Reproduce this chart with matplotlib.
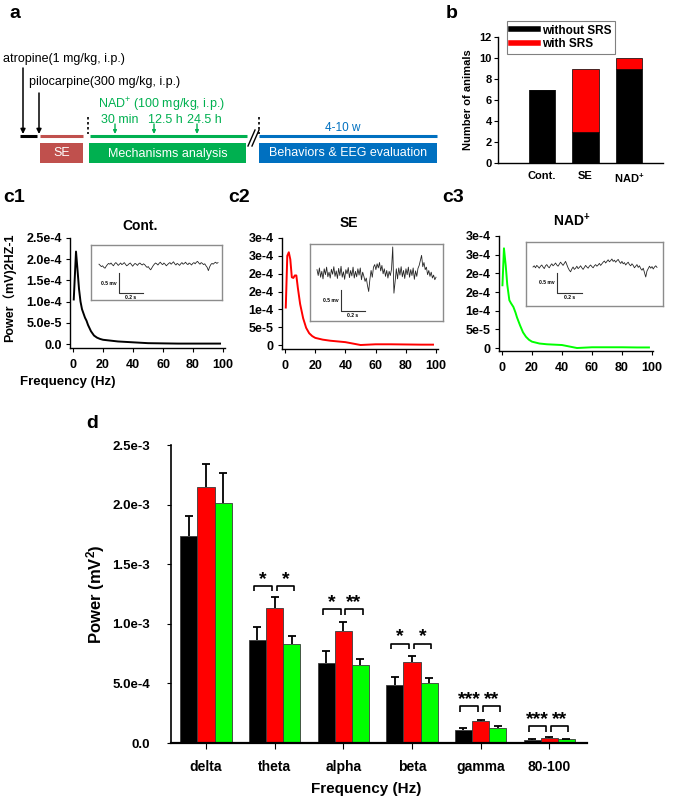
import numpy as np
import matplotlib
matplotlib.use('Agg')
import matplotlib.pyplot as plt
from matplotlib.patches import Rectangle
from matplotlib.lines import Line2D

plt.rcParams['font.family'] = ['Liberation Sans', 'Noto Sans CJK SC', 'DejaVu Sans']
plt.rcParams['mathtext.fontset'] = 'custom'
plt.rcParams['mathtext.rm'] = 'Liberation Sans'
plt.rcParams['mathtext.bf'] = 'Liberation Sans:bold'
plt.rcParams['mathtext.it'] = 'Liberation Sans:italic'
plt.rcParams['axes.linewidth'] = 1.0

# ---------------- data ----------------
# panel b
b_groups = ['Cont.', 'SE', 'NAD$^\\mathbf{+}$']
b_without = [7, 3, 9]
b_with = [0, 6, 1]
b_yticks = [0, 2, 4, 6, 8, 10, 12]

# panel c power spectra (values in 1e-4 mV^2/Hz)
c1_freq = [0.5, 2, 3, 4, 5, 6, 7, 8, 9, 10, 12, 14, 16, 18, 20, 25, 30, 40, 50, 60, 70, 80, 90, 98]
c1_pow = [1.05, 2.18, 1.75, 1.30, 1.00, 0.82, 0.72, 0.62, 0.55, 0.45, 0.30, 0.20, 0.15, 0.12,
          0.10, 0.08, 0.06, 0.04, 0.02, 0.015, 0.01, 0.01, 0.01, 0.01]
c2_freq = [0.5, 1.5, 2.5, 3.5, 4.5, 5.5, 6.5, 7.5, 8.5, 10, 12, 14, 16, 18, 20, 25, 30, 40, 50,
           60, 70, 80, 90, 98]
c2_pow = [1.05, 2.50, 2.60, 2.40, 1.90, 1.88, 1.95, 1.95, 1.60, 1.15, 0.75, 0.48, 0.33, 0.25,
          0.20, 0.15, 0.12, 0.08, 0.00, 0.02, 0.02, 0.015, 0.01, 0.01]
c3_freq = [0.3, 1.3, 2.5, 3.5, 4.9, 6, 7.6, 9, 10, 12, 14, 16, 18, 20, 25, 30, 40, 50, 60, 70,
           80, 90, 98]
c3_pow = [1.68, 2.67, 2.20, 1.70, 1.28, 1.20, 1.10, 0.95, 0.82, 0.61, 0.42, 0.30, 0.22, 0.17,
          0.12, 0.10, 0.08, 0.00, 0.02, 0.02, 0.02, 0.015, 0.015]
c_xticks = [0, 20, 40, 60, 80, 100]
c1_yticks = [0, 0.5e-4, 1.0e-4, 1.5e-4, 2.0e-4, 2.5e-4]
c1_yticklabels = ['0.0', '5.0e-5', '1.0e-4', '1.5e-4', '2.0e-4', '2.5e-4']
c23_yticks = [0, 0.5e-4, 1.0e-4, 1.5e-4, 2.0e-4, 2.5e-4, 3.0e-4]
c23_yticklabels = ['0', '5e-5', '1e-4', '2e-4', '2e-4', '3e-4', '3e-4']

# EEG traces (units of 0.01 mV, 10 ms samples)
trace_dt = 0.01
eeg_c1 = [2, -1, -4, -2, -6, -8, -3, 1, 4, 2, 5, 1, -2, 3, 6, 3, -1, 2, 5, 1, 3, 6, 2, -2, 0,
          3, 5, 1, -3, 1, 4, 2, -1, 3, 5, 2, 0, 3, 1, -3, -6, -4, -9, -12, -7, -2, 2, 5, 3, 0,
          4, 7, 3, 1, 5, 2, -2, 1, 4, 6, 2, 5, 8, 3, 0, 4, 2, -1, 3, 6, 2, 4, 7, 3, 1, 5, 3, 0,
          4, 6, 3, 7, 9, 5, 2, 6, 4, 1, 3, -2, -6, -14, -5, 1, 4, 2, 5, 7, 4, 6]
eeg_c2 = [8, -6, 12, -10, 4, -14, 10, -4, 14, -9, 2, -12, 9, -3, 15, -8, 5, -13, 11, -6, 16,
          -10, 3, -15, 8, -2, 13, -11, 6, -7, 14, -12, 4, -9, 10, -5, 12, -16, 2, -8, -20, -12,
          -30, -44, -15, 6, -10, 14, 20, 8, 22, 12, 25, 5, 18, -2, 10, -8, 6, -12, 4, -6, 9, 62,
          -48, -20, 10, -14, 12, -5, 15, -9, 6, -13, 10, -4, 14, -10, 8, -6, 12, -15, 5, -8, 11,
          18, 30, 42, 15, 25, 8, 14, -4, 6, -8, 2, -12, -5, -16, -10]
eeg_c3 = [0, 3, -2, 4, 1, -3, 2, 5, 0, -4, 3, 6, 1, -2, 4, 8, 3, 6, 10, 5, 2, 7, 12, 8, 4, 9,
          14, 6, -2, -8, -12, -5, 0, -6, -3, 2, -4, -1, 3, -2, -6, -1, 4, 0, -3, 2, 5, 1, -2, 3,
          6, 2, 5, 9, 4, 8, 12, 15, 10, 14, 18, 13, 16, 20, 14, 17, 12, 16, 19, 13, 9, 14, 8, 11,
          5, 9, 12, 6, 3, 8, 4, -2, 2, 6, -1, 3, -4, -8, -3, -14, -25, -10, -4, 2, -3, 1, -5, 0,
          3, -1]

# panel d (values in 1e-3 mV^2)
d_groups = ['delta', 'theta', 'alpha', 'beta', 'gamma', '80-100']
d_cont = [1.740, 0.860, 0.670, 0.485, 0.112, 0.028]
d_se = [2.145, 1.134, 0.938, 0.680, 0.182, 0.045]
d_nad = [2.010, 0.834, 0.652, 0.504, 0.129, 0.034]
d_cont_err = [0.163, 0.112, 0.106, 0.070, 0.014, 0.006]
d_se_err = [0.196, 0.090, 0.073, 0.051, 0.014, 0.005]
d_nad_err = [0.255, 0.067, 0.056, 0.042, 0.011, 0.003]
d_yticks = [0, 0.5e-3, 1.0e-3, 1.5e-3, 2.0e-3, 2.5e-3]
d_yticklabels = ['0.0', '5.0e-4', '1.0e-3', '1.5e-3', '2.0e-3', '2.5e-3']
sig_idx = [1, 2, 3, 4, 5]
sig_height = [1.319e-3, 1.123e-3, 0.834e-3, 0.308e-3, 0.140e-3]
sig_left = ['*', '*', '*', '***', '***']
sig_right = ['*', '**', '*', '**', '**']

# ---------------- layout ----------------
W, H = 675, 799
fig = plt.figure(figsize=(W / 100, H / 100), dpi=100)


def rect(x0, y0, x1, y1):
    return [x0 / W, 1 - y1 / H, (x1 - x0) / W, (y1 - y0) / H]


ov = fig.add_axes([0, 0, 1, 1])
ov.set_xlim(0, W)
ov.set_ylim(H, 0)
ov.axis('off')

BOLD = dict(fontweight='bold')

# panel labels
for lab, x, y in [('a', 15, 13), ('b', 452, 13), ('c1', 14, 198), ('c2', 239, 198),
                  ('c3', 453, 198), ('d', 92, 423)]:
    ov.text(x, y, lab, fontsize=14, ha='center', va='center', **BOLD)

# ---------------- panel a (schematic) ----------------
RED_A = '#c0504d'
GREEN_A = '#00b050'
BLUE_A = '#0070c0'
ov.text(3, 59, 'atropine(1 mg/kg, i.p.)', fontsize=9, ha='left', va='center')
ov.text(29, 82, 'pilocarpine(300 mg/kg, i.p.)', fontsize=9, ha='left', va='center')
for x, ytop in [(23, 68), (39, 93)]:
    ov.annotate('', xy=(x, 134), xytext=(x, ytop),
                arrowprops=dict(arrowstyle='-|>', color='black', lw=1.1, mutation_scale=7,
                                shrinkA=0, shrinkB=0))
ov.plot([20, 37], [136, 136], color='black', lw=2.2, solid_capstyle='butt')
ov.plot([40, 83], [136, 136], color=RED_A, lw=2.2, solid_capstyle='butt')
ov.plot([90, 247], [136, 136], color=GREEN_A, lw=2.2, solid_capstyle='butt')
ov.plot([259, 437], [136, 136], color=BLUE_A, lw=2.2, solid_capstyle='butt')
for x in [88, 259]:
    ov.plot([x, x], [117, 134], color='black', lw=1.2, linestyle=(0, (1.5, 1.5)))
ov.plot([248, 255], [146, 130], color='black', lw=1.0)
ov.plot([252, 259], [146, 130], color='black', lw=1.0)
for (x0, x1, col, lab) in [(40, 83, RED_A, 'SE'), (89, 246, GREEN_A, 'Mechanisms analysis'),
                           (259, 437, BLUE_A, 'Behaviors & EEG evaluation')]:
    ov.add_patch(Rectangle((x0, 143), x1 - x0, 20, facecolor=col, edgecolor='none'))
    ov.text((x0 + x1) / 2, 153.5, lab, color='white', fontsize=9, ha='center', va='center')
ov.text(98, 105, 'NAD$^{+}$ (100 mg/kg, i.p.)', color=GREEN_A, fontsize=9, ha='left',
        va='center')
for x, lab in [(120, '30 min'), (165, '12.5 h'), (204, '24.5 h')]:
    ov.text(x, 120, lab, color=GREEN_A, fontsize=9, ha='center', va='center')
for x in [115, 154, 197]:
    ov.annotate('', xy=(x, 134), xytext=(x, 124),
                arrowprops=dict(arrowstyle='-|>', color=GREEN_A, lw=1.0, mutation_scale=5,
                                shrinkA=0, shrinkB=0))
ov.text(343, 128, '4-10 w', color=BLUE_A, fontsize=8.5, ha='center', va='center')

# ---------------- panel b ----------------
axb = fig.add_axes(rect(498, 37, 663, 163))
xb = np.arange(len(b_groups))
axb.bar(xb, b_without, width=0.6, color='black', edgecolor='black', lw=0.5)
axb.bar(xb, b_with, width=0.6, bottom=b_without, color='#ff0000', edgecolor='black', lw=0.5)
axb.set_xlim(-1.0, 2.77)
axb.set_ylim(0, 12)
axb.set_yticks(b_yticks)
axb.set_yticklabels([str(v) for v in b_yticks], fontsize=8, **BOLD)
axb.set_xticks(xb)
axb.set_xticklabels(b_groups, fontsize=8, **BOLD)
axb.tick_params(axis='x', length=0, pad=6)
axb.tick_params(axis='y', length=3, pad=1.5, direction='out')
for s in ['top', 'right']:
    axb.spines[s].set_visible(False)
ov.text(468, 100, 'Number of animals', rotation=90, fontsize=8, ha='center', va='center', **BOLD)
handles = [Line2D([], [], color='black', lw=4), Line2D([], [], color='#ff0000', lw=4)]
leg = fig.legend(handles, ['without SRS', 'with SRS'], loc='upper left',
                 bbox_to_anchor=(507 / W, 1 - 21 / H), bbox_transform=fig.transFigure,
                 borderaxespad=0, fancybox=False, edgecolor='#808080', framealpha=1,
                 prop=dict(family='Liberation Sans', weight='bold', size=8.5),
                 handlelength=2.3, handletextpad=0.4, borderpad=0.3, labelspacing=0.15)
leg.get_frame().set_linewidth(0.8)

# ---------------- panel c ----------------
def spectrum_axis(box, xlim, ylim, freq, pw, color, yticks, yticklabels):
    ax = fig.add_axes(rect(*box))
    ax.plot(freq, np.array(pw) * 1e-4, color=color, lw=1.4)
    ax.set_xlim(*xlim)
    ax.set_ylim(*ylim)
    ax.set_xticks(c_xticks)
    ax.set_xticklabels([str(v) for v in c_xticks], fontsize=9, **BOLD)
    ax.set_yticks(yticks)
    ax.set_yticklabels(yticklabels, fontsize=9, **BOLD)
    ax.tick_params(length=3, pad=3, direction='out', width=0.8)
    ax.tick_params(axis='x', pad=5)
    for s in ['top', 'right']:
        ax.spines[s].set_visible(False)
    return ax


spectrum_axis((70, 238, 225, 348), (-2, 101.3), (-0.094e-4, 2.5e-4), c1_freq, c1_pow, 'black',
              c1_yticks, c1_yticklabels)
spectrum_axis((282, 238, 438, 349), (-2, 101.3), (-0.112e-4, 3.0e-4), c2_freq, c2_pow, '#ff0000',
              c23_yticks, c23_yticklabels)
spectrum_axis((499, 236, 653, 351), (-2, 100.7), (-0.08e-4, 3.0e-4), c3_freq, c3_pow, '#00ff00',
              c23_yticks, c23_yticklabels)

ov.text(140, 226, 'Cont.', fontsize=10, ha='center', va='center', **BOLD)
ov.text(349, 223, 'SE', fontsize=10, ha='center', va='center', **BOLD)
ov.text(572, 221, 'NAD$^\\mathbf{+}$', fontsize=10, ha='center', va='center', **BOLD)
ov.text(9, 288, 'Power（mV)2HZ-1', rotation=90, fontsize=9, ha='center', va='center',
        fontweight='bold', family=['Liberation Sans', 'Noto Sans CJK SC'])
ov.text(20, 382, 'Frequency (Hz)', fontsize=9.5, ha='left', va='center', **BOLD)


def eeg_inset(box, trace_px, base_px, ppmv, bar_px, vals):
    x0, y0, x1, y1 = box
    ax = fig.add_axes(rect(*box))
    t = np.arange(len(vals)) * trace_dt
    tx0, tx1 = trace_px
    ppx = (tx1 - tx0) / t[-1]
    ax.set_xlim(-(tx0 - x0) / ppx, (x1 - tx0) / ppx)
    ax.set_ylim(-(y1 - base_px) / ppmv, (base_px - y0) / ppmv)
    ax.plot(t, np.array(vals) * 0.01, color='#262626', lw=0.6)
    bx, by = bar_px
    sx = (bx - tx0) / ppx
    sy = -(by - base_px) / ppmv
    ax.plot([sx, sx, sx + 0.2], [sy + 0.5, sy, sy], color='#333333', lw=0.8)
    ax.text(sx - 0.02, sy + 0.25, '0.5 mv', fontsize=3.6, ha='right', va='center', **BOLD)
    ax.text(sx + 0.1, sy - 0.05, '0.2 s', fontsize=3.6, ha='center', va='top', **BOLD)
    ax.set_xticks([])
    ax.set_yticks([])
    for s in ax.spines.values():
        s.set_edgecolor('#8c8c8c')
        s.set_linewidth(1.0)


eeg_inset((91, 245, 222, 300), (99, 218), 265, 40, (119, 293), eeg_c1)
eeg_inset((310, 244, 443, 321), (317, 436), 273, 42, (341, 311), eeg_c2)
eeg_inset((526, 242, 663, 306), (533, 657), 267, 40, (557, 293), eeg_c3)

# ---------------- panel d ----------------
axd = fig.add_axes(rect(171, 445, 587, 743))
xd = np.arange(len(d_groups))
bw = 0.25
for off, vals, errs, col in [(-bw, d_cont, d_cont_err, 'black'),
                             (0, d_se, d_se_err, '#ff0000'),
                             (bw, d_nad, d_nad_err, '#00ff00')]:
    v = np.array(vals) * 1e-3
    e = np.array(errs) * 1e-3
    axd.bar(xd + off, v, width=bw, color=col, edgecolor='#3a3a3a', lw=0.6, zorder=2)
    _, caps, _ = axd.errorbar(xd + off, v, yerr=[np.zeros_like(e), e], fmt='none',
                              ecolor='black', elinewidth=1.3, capsize=3, capthick=1.3, zorder=3)
    caps[0].set_visible(False)
axd.set_xlim(-0.51, 5.55)
axd.set_ylim(0, 2.5e-3)
axd.set_yticks(d_yticks)
axd.set_yticklabels(d_yticklabels, fontsize=9.5, **BOLD)
axd.set_xticks(xd)
axd.set_xticklabels(d_groups, fontsize=10, **BOLD)
axd.tick_params(axis='y', length=3, pad=12, direction='out')
axd.tick_params(axis='x', length=4, pad=8, direction='out')
axd.spines['left'].set_linewidth(1.2)
axd.spines['bottom'].set_linewidth(1.6)
for s in ['top', 'right']:
    axd.spines[s].set_visible(False)

dep = 0.045e-3
for i, h, sl, sr in zip(sig_idx, sig_height, sig_left, sig_right):
    for xa, xb2, lab in [(i - 0.30, i - 0.04, sl), (i + 0.03, i + 0.28, sr)]:
        axd.plot([xa, xa, xb2, xb2], [h - dep, h, h, h - dep], color='black', lw=1.2,
                 solid_capstyle='butt', zorder=4)
        axd.annotate(lab, xy=((xa + xb2) / 2, h), xytext=(0, 1.5), textcoords='offset points',
                     ha='center', va='baseline', fontsize=14, **BOLD)

ov.text(96, 594, 'Power (mV$^\\mathbf{2}$)', rotation=90, fontsize=12, ha='center',
        va='center', **BOLD)
ov.text(366, 789, 'Frequency (Hz)', fontsize=11, ha='center', va='center', **BOLD)

fig.savefig('out.png', dpi=100)
